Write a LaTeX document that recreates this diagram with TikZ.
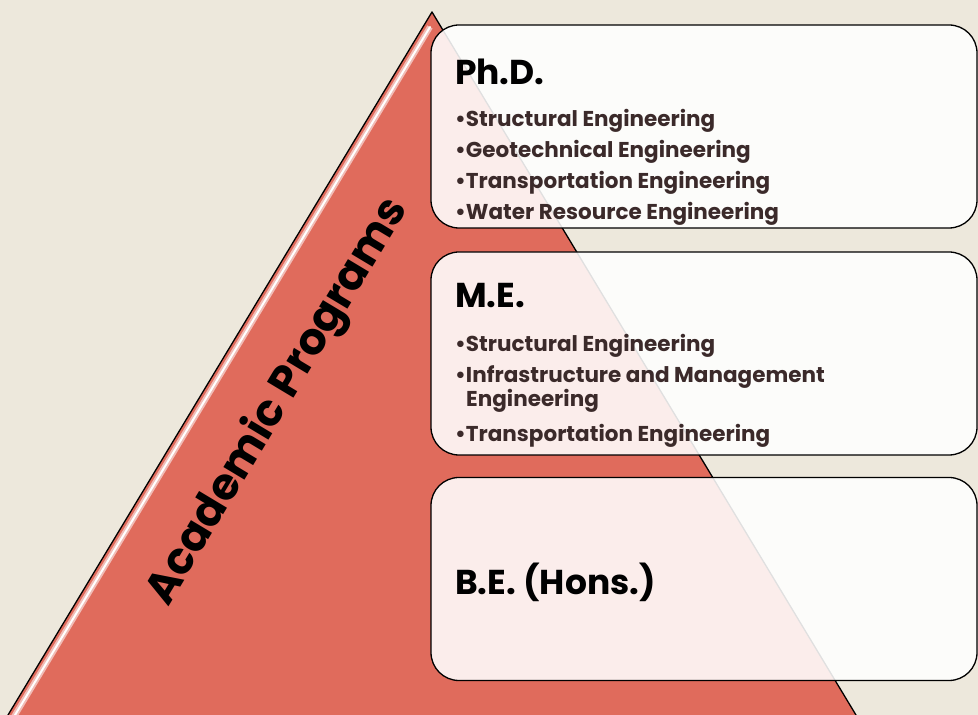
\documentclass[tikz,border=0pt]{standalone}
\usepackage{fontspec}
\setmainfont{Poppins}
\usetikzlibrary{positioning}
\definecolor{sandbg}{HTML}{EDE8DC}
\definecolor{coral}{HTML}{E06B5C}
\definecolor{cocoa}{HTML}{3B2A2A}

\begin{document}
\begin{tikzpicture}[x=1pt, y=1pt]
	\tikzstyle{levelbox}=[draw=black, line width=1.3pt, rounded corners=28pt, fill=white, fill opacity=0.88, text opacity=1, minimum width=546pt, minimum height=203pt, inner sep=0pt]
	\tikzstyle{headtxt}=[anchor=base west, inner sep=0pt, font=\bfseries\fontsize{34.5}{34.5}\selectfont]
	\tikzstyle{itemtxt}=[anchor=base west, inner sep=0pt, text=cocoa, font=\bfseries\fontsize{21.5}{21.5}\selectfont]
	%page frame
	\clip (0,0) rectangle (978,715);
	\fill[sandbg] (0,0) rectangle (978,715);
	%%% PYRAMID %%%
	\draw[line width=1.3pt, fill=coral, line join=round] (2,-10) -- (432,703) -- (862,-10) -- cycle;
	%glow along left edge
	\draw[white!55!coral, line width=6pt] (430,688) -- (9,-10);
	\draw[white, line width=2pt, line cap=round] (430,688) -- (9,-10);
	%side label
	\node[rotate=59, font=\bfseries\fontsize{44}{44}\selectfont] (sidelabel) at (278,313) {Academic Programs};
	%%% LEVEL BOXES %%%
	\node[levelbox] (phd) at (704,588.5) {};
	\node[levelbox] (me) at (704,361.5) {};
	\node[levelbox] (be) at (704,136) {};
	%Ph.D. box
	\node[headtxt] (phdhead) at (455,630) {Ph.D.};
	\node[itemtxt] (phdone) at (455,588) {•Structural Engineering};
	\node[itemtxt] (phdtwo) at (455,557) {•Geotechnical Engineering};
	\node[itemtxt] (phdthree) at (455,526) {•Transportation Engineering};
	\node[itemtxt] (phdfour) at (455,495) {•Water Resource Engineering};
	%M.E. box
	\node[headtxt] (mehead) at (455,407) {M.E.};
	\node[itemtxt] (meone) at (455,363) {•Structural Engineering};
	\node[itemtxt] (metwo) at (455,332) {•Infrastructure and Management};
	\node[itemtxt] (metwob) at (466,308) {Engineering};
	\node[itemtxt] (methree) at (455,273) {•Transportation Engineering};
	%B.E. box
	\node[headtxt] (behead) at (455,120) {B.E. (Hons.)};
\end{tikzpicture}
\end{document}
